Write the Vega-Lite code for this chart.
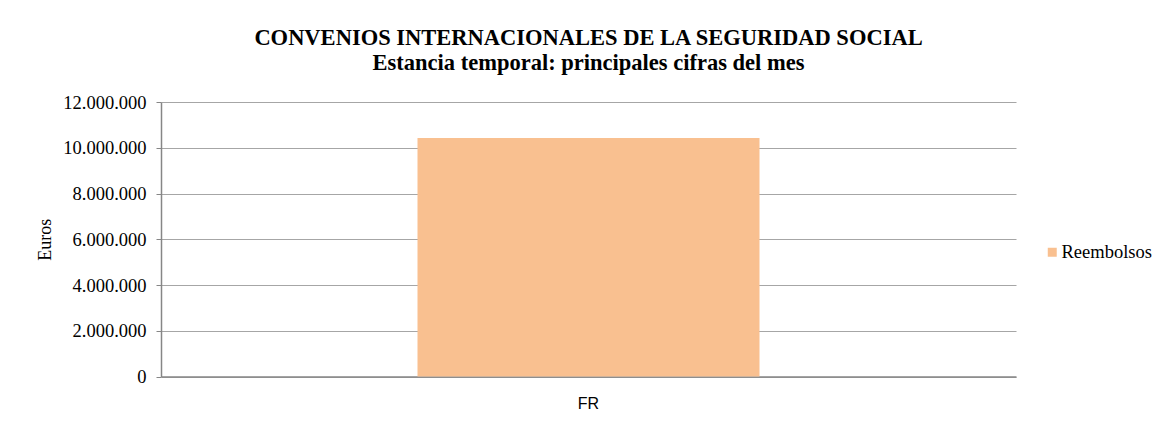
{
  "$schema": "https://vega.github.io/schema/vega-lite/v6.json",
  "width": 855,
  "height": 274.5,
  "autosize": {"type": "none"},
  "padding": {"left": 161, "top": 102, "right": 148, "bottom": 46.5},
  "background": "white",
  "title": {
    "text": ["CONVENIOS INTERNACIONALES DE LA SEGURIDAD SOCIAL", "Estancia temporal: principales cifras del mes"],
    "font": "Liberation Serif",
    "fontSize": 22.5,
    "fontWeight": "bold",
    "color": "#000000",
    "anchor": "middle",
    "lineHeight": 25,
    "offset": 19
  },
  "data": {
    "values": [
      {"pais": "FR", "serie": "Reembolsos", "euros": 10430000}
    ]
  },
  "mark": {"type": "bar", "width": {"band": 0.4}},
  "encoding": {
    "x": {
      "field": "pais",
      "type": "nominal",
      "scale": {"paddingInner": 0, "paddingOuter": 0},
      "axis": {
        "title": null,
        "labelAngle": 0,
        "ticks": false,
        "domainColor": "#868686",
        "domainWidth": 1.5,
        "labelFont": "Liberation Sans",
        "labelFontSize": 16,
        "labelColor": "#000000",
        "labelPadding": 19
      }
    },
    "y": {
      "field": "euros",
      "type": "quantitative",
      "scale": {"domain": [0, 12000000], "nice": false},
      "axis": {
        "title": "Euros",
        "titleFont": "Liberation Serif",
        "titleFontSize": 18,
        "titleFontWeight": "normal",
        "titleColor": "#000000",
        "titlePadding": 8,
        "values": [0, 2000000, 4000000, 6000000, 8000000, 10000000, 12000000],
        "format": ",d",
        "labelFont": "Liberation Serif",
        "labelFontSize": 18.5,
        "labelColor": "#000000",
        "labelPadding": 10,
        "tickSize": 5,
        "tickColor": "#868686",
        "domainColor": "#868686",
        "domainWidth": 1.5,
        "gridColor": "#a6a6a6",
        "gridWidth": 1.2
      }
    },
    "color": {
      "field": "serie",
      "type": "nominal",
      "scale": {"range": ["#F9C090"]},
      "legend": {
        "title": null,
        "orient": "none",
        "legendX": 882,
        "legendY": 141,
        "symbolType": "square",
        "symbolSize": 81,
        "symbolStrokeWidth": 0,
        "labelFont": "Liberation Serif",
        "labelFontSize": 18.5,
        "labelColor": "#000000",
        "labelOffset": 0
      }
    }
  },
  "config": {
    "view": {"stroke": null},
    "locale": {
      "number": {"decimal": ",", "thousands": ".", "grouping": [3], "currency": ["", " €"]}
    }
  }
}
